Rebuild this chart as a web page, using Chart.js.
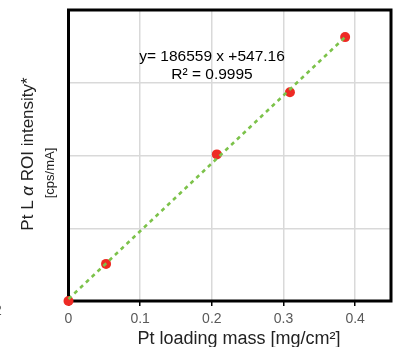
<!DOCTYPE html>
<html>
<head>
<meta charset="utf-8">
<script src="https://cdn.jsdelivr.net/npm/chart.js@4.4.1/dist/chart.umd.min.js"></script>
<style>
  body { margin: 0; background: #fff; }
  #wrap { width: 397px; height: 347px; position: relative; }
</style>
</head>
<body>
<div id="wrap"><canvas id="calibChart"></canvas></div>
<script>
const loadingMass = [0, 0.0524, 0.207, 0.309, 0.386];
const roiIntensity = [0, 10200, 40300, 57400, 72550];
const trendX = [0, 0.388];
const trendY = [547, 72930];
const xTicks = [0, 0.1, 0.2, 0.3, 0.4];
const eqLines = ['y= 186559 x +547.16', 'R\u00b2 = 0.9995'];

const FONT = "'Liberation Sans', Arial, sans-serif";

const framePlugin = {
  id: 'frame',
  beforeDatasetsDraw(chart) {
    const { ctx, chartArea: a } = chart;
    ctx.save();
    ctx.strokeStyle = '#000';
    ctx.lineWidth = 3;
    ctx.strokeRect(a.left, a.top, a.right - a.left, a.bottom - a.top);
    ctx.restore();
  },
  afterDraw(chart) {
    const { ctx } = chart;
    ctx.save();
    ctx.fillStyle = '#000';
    ctx.textBaseline = 'middle';

    // equation
    ctx.textAlign = 'center';
    ctx.font = '15.5px ' + FONT;
    ctx.fillText(eqLines[0], 212, 57);
    ctx.fillText(eqLines[1], 212, 75);

    // x title
    ctx.font = '18px ' + FONT;
    ctx.fillStyle = '#222';
    ctx.fillText('Pt loading mass [mg/cm\u00b2]', 239, 339);

    // y title (rotated)
    ctx.translate(28, 154);
    ctx.rotate(-Math.PI / 2);
    const parts = [['Pt L ', ''], ['\u03b1', 'italic '], [' ROI intensity*', '']];
    let total = 0;
    parts.forEach(p => { ctx.font = p[1] + '17px ' + FONT; total += ctx.measureText(p[0]).width; });
    let x = -total / 2;
    ctx.textAlign = 'left';
    parts.forEach(p => {
      ctx.font = p[1] + '17px ' + FONT;
      ctx.fillText(p[0], x, 0);
      x += ctx.measureText(p[0]).width;
    });
    ctx.font = '13px ' + FONT;
    ctx.textAlign = 'center';
    ctx.fillText('[cps/mA]', -19, 22);
    ctx.restore();

    // clipped label at the left edge
    ctx.save();
    ctx.fillStyle = '#595959';
    ctx.font = '14px ' + FONT;
    ctx.textBaseline = 'middle';
    ctx.fillText('2', -6, 311);
    ctx.restore();
  }
};

new Chart(document.getElementById('calibChart'), {
  type: 'scatter',
  data: {
    datasets: [
      {
        type: 'line',
        label: 'fit',
        data: trendX.map((v, i) => ({ x: v, y: trendY[i] })),
        borderColor: '#7cc24a',
        borderWidth: 2.5,
        borderDash: [4, 4],
        pointRadius: 0,
        fill: false,
        clip: false
      },
      {
        label: 'Pt',
        data: loadingMass.map((v, i) => ({ x: v, y: roiIntensity[i] })),
        backgroundColor: '#ee2a24',
        borderColor: '#ee2a24',
        pointRadius: 5,
        pointBorderWidth: 0,
        clip: false
      }
    ]
  },
  options: {
    responsive: true,
    maintainAspectRatio: false,
    animation: false,
    layout: { padding: { left: 0, top: 10, right: 6, bottom: 0 } },
    plugins: { legend: { display: false }, tooltip: { enabled: false } },
    scales: {
      x: {
        type: 'linear',
        min: 0,
        max: 0.45,
        afterBuildTicks: s => { s.ticks = xTicks.map(v => ({ value: v })); },
        afterFit: s => { s.height = 46; },
        ticks: {
          color: '#595959',
          font: { size: 14, family: FONT },
          padding: 5,
          maxRotation: 0,
          callback: v => String(v)
        },
        grid: { color: '#d9d9d9', lineWidth: 1.5, tickColor: '#000', tickLength: 5 },
        border: { display: false }
      },
      y: {
        min: 0,
        max: 80000,
        ticks: { display: false, stepSize: 20000 },
        afterFit: s => { s.width = 68.5; },
        grid: { color: '#d9d9d9', lineWidth: 1.5, drawTicks: false },
        border: { display: false }
      }
    }
  },
  plugins: [framePlugin]
});
</script>
</body>
</html>
